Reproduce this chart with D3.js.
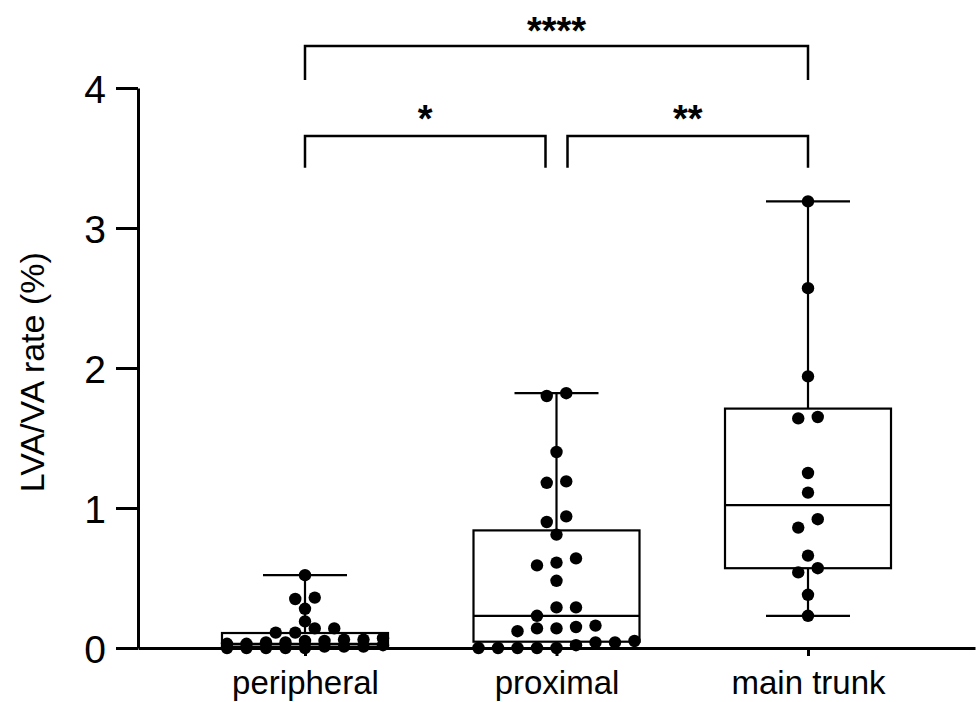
<html>
<head>
<script src="https://d3js.org/d3.v7.min.js"></script>
<style>
body { margin: 0; background: #fff; }
svg text { font-family: "Liberation Sans", Arial, Helvetica, sans-serif; }
</style>
</head>
<body>
<div id="chart"></div>
<script type="text/javascript">

// groups
var categories = ["peripheral", "proximal", "main trunk"];

// individual values (LVA/VA rate, %)
var peripheralValues = [0, 0, 0, 0, 0, 0.01, 0.01, 0.01, 0.02,
	0.03, 0.03, 0.04, 0.04, 0.05, 0.05, 0.06, 0.06, 0.07,
	0.11, 0.11, 0.14, 0.14, 0.19, 0.28, 0.35, 0.36, 0.52];
var proximalValues = [0, 0, 0, 0, 0, 0.02, 0.04, 0.04, 0.05,
	0.12, 0.14, 0.14, 0.15, 0.16, 0.23, 0.29, 0.29, 0.48,
	0.59, 0.61, 0.64, 0.81, 0.90, 0.94, 1.18, 1.19, 1.40, 1.80, 1.82];
var mainTrunkValues = [0.23, 0.38, 0.54, 0.57, 0.66, 0.86, 0.92,
	1.11, 1.25, 1.64, 1.65, 1.94, 2.57, 3.19];

// box plot summary (min to max whiskers)
var boxMin    = [0, 0, 0.23];
var boxQ1     = [0.01, 0.045, 0.57];
var boxMedian = [0.03, 0.23, 1.02];
var boxQ3     = [0.107, 0.84, 1.71];
var boxMax    = [0.52, 1.82, 3.19];

// y axis ticks
var yTicks = [0, 1, 2, 3, 4];

// significance brackets
var compareFrom  = ["peripheral", "proximal", "peripheral"];
var compareTo    = ["proximal", "main trunk", "main trunk"];
var compareLabel = ["*", "**", "****"];

var groupValues = [peripheralValues, proximalValues, mainTrunkValues];

var width = 979, height = 702;

var svg = d3.select("#chart").append("svg")
	.attr("width", width)
	.attr("height", height);

var y = d3.scaleLinear().domain([0, 4]).range([648, 88]);
var x = d3.scalePoint().domain(categories).range([138, 975]).padding(0.664);

var boxHalf = 83;
var capHalf = 42;
var dotR = 6.2;
var dotStep = 19.5;

// boxes
var boxes = svg.append("g").attr("class", "boxes");
categories.forEach(function(c, i) {
	var cx = x(c);
	var g = boxes.append("g");
	g.append("line")
		.attr("x1", cx).attr("x2", cx)
		.attr("y1", y(boxQ3[i])).attr("y2", y(boxMax[i]));
	g.append("line")
		.attr("x1", cx).attr("x2", cx)
		.attr("y1", y(boxQ1[i])).attr("y2", y(boxMin[i]));
	g.append("line")
		.attr("x1", cx - capHalf).attr("x2", cx + capHalf)
		.attr("y1", y(boxMax[i])).attr("y2", y(boxMax[i]));
	g.append("line")
		.attr("x1", cx - capHalf).attr("x2", cx + capHalf)
		.attr("y1", y(boxMin[i])).attr("y2", y(boxMin[i]));
	g.append("rect")
		.attr("x", cx - boxHalf)
		.attr("width", boxHalf * 2)
		.attr("y", y(boxQ3[i]))
		.attr("height", y(boxQ1[i]) - y(boxQ3[i]))
		.style("fill", "none");
	g.append("line")
		.attr("x1", cx - boxHalf).attr("x2", cx + boxHalf)
		.attr("y1", y(boxMedian[i])).attr("y2", y(boxMedian[i]));
	g.selectAll("line, rect")
		.style("stroke", "#000")
		.style("stroke-width", 2.2);
});

// spread the dots in rows, like a scatter dot plot
function spread(values) {
	var sorted = values.slice().sort(function(a, b) { return a - b; });
	var rows = [];
	var cur = null;
	sorted.forEach(function(v) {
		if (cur && (y(cur[0]) - y(v)) < 9 && cur.length < 9) {
			cur.push(v);
		} else {
			cur = [v];
			rows.push(cur);
		}
	});
	var out = [];
	rows.forEach(function(r) {
		r.forEach(function(v, k) {
			out.push({ v: v, off: (k - (r.length - 1) / 2) * dotStep });
		});
	});
	return out;
}

// axes
var yAxis = svg.append("g")
	.attr("transform", "translate(138,0)")
	.call(d3.axisLeft(y).tickValues(yTicks).tickFormat(d3.format("d"))
		.tickSize(22).tickSizeOuter(0).tickPadding(10));
yAxis.selectAll("path, line").style("stroke", "#000").style("stroke-width", 3);
yAxis.selectAll("text")
	.style("font-size", "39px")
	.style("fill", "#000")
	.attr("dy", "0.36em");

var xAxis = svg.append("g")
	.attr("transform", "translate(0,648)")
	.call(d3.axisBottom(x).tickSize(8).tickSizeOuter(0).tickPadding(15));
xAxis.selectAll("path, line").style("stroke", "#000").style("stroke-width", 3);
xAxis.selectAll("text")
	.style("font-size", "33px")
	.style("fill", "#000");

// dots
categories.forEach(function(c, i) {
	svg.append("g").selectAll("circle")
		.data(spread(groupValues[i]))
		.enter().append("circle")
		.attr("cx", function(d) { return x(c) + d.off; })
		.attr("cy", function(d) { return y(d.v); })
		.attr("r", dotR)
		.style("fill", "#000");
});

// y axis title
svg.append("text")
	.attr("transform", "translate(44," + y(1.97) + ") rotate(-90)")
	.attr("text-anchor", "middle")
	.style("font-size", "34px")
	.style("fill", "#000")
	.text("LVA/VA rate (%)");

// brackets
var brackets = svg.append("g");
compareFrom.forEach(function(f, i) {
	var a = categories.indexOf(f), b = categories.indexOf(compareTo[i]);
	var wide = (b - a) > 1;
	var top = wide ? y(4.3) : y(3.657);
	var foot = wide ? y(4.057) : y(3.43);
	var x1 = x(f) + (a === 1 ? 11 : 0);
	var x2 = x(compareTo[i]) - (b === 1 ? 11 : 0);
	brackets.append("path")
		.attr("d", "M" + x1 + "," + foot + "V" + top + "H" + x2 + "V" + foot)
		.style("fill", "none")
		.style("stroke", "#000")
		.style("stroke-width", 2.5);
	brackets.append("text")
		.attr("x", (x1 + x2) / 2)
		.attr("y", top - (wide ? 2 : 4))
		.attr("text-anchor", "middle")
		.style("font-size", "38px")
		.style("font-weight", "bold")
		.style("fill", "#000")
		.text(compareLabel[i]);
});

</script>
</body>
</html>
